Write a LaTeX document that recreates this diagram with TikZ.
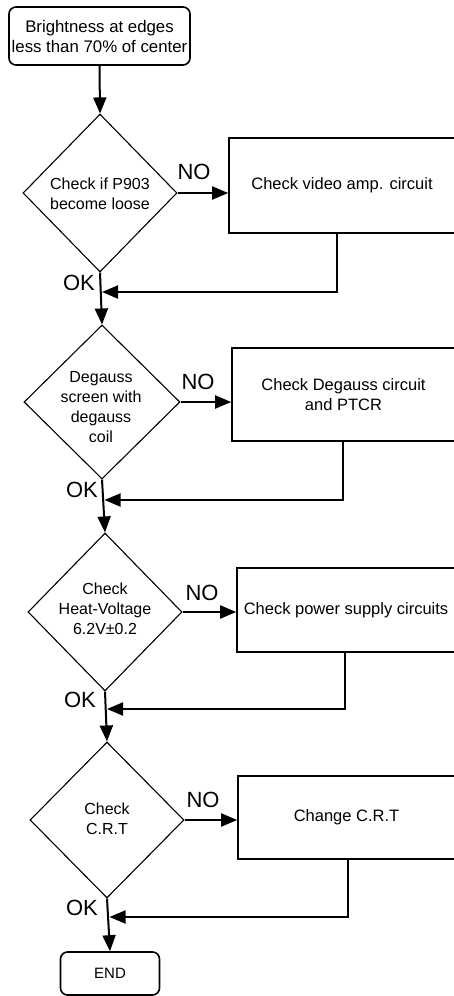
\documentclass[tikz,border=0pt]{standalone}
\usepackage{fontspec}
\setmainfont{Liberation Sans}
\usetikzlibrary{shapes.geometric,arrows.meta}
\begin{document}
\begin{tikzpicture}[x=1pt,y=-1pt,
  txt/.style={font=\fontsize{16}{20}\selectfont, align=center, inner sep=0pt},
  lbl/.style={font=\fontsize{22}{24}\selectfont, inner sep=0pt},
  term/.style={draw, line width=1.6pt, rounded corners=7pt, inner sep=0pt},
  dia/.style={draw, diamond, line width=1.1pt, inner sep=0pt},
  procbox/.style={draw, line width=1.6pt, rectangle, inner sep=0pt, align=center, font=\fontsize{16.5}{20}\selectfont},
  arr/.style={line width=2pt, -{Triangle[length=16pt,width=13pt]}},
  ln/.style={line width=2pt}
]
\useasboundingbox (0,0) rectangle (453,996);

% start
\node[term, minimum width=181pt, minimum height=58pt, txt, font=\fontsize{16.8}{20}\selectfont] (start) at (99.5,36) {Brightness at edges\\less than 70\% of center};

% decision 1
\node[dia, minimum width=154pt, minimum height=158pt] (d1) at (100,193) {};
\node[txt] (t1) at (100,194) {Check if P903\\become loose};
\node[procbox, minimum width=226pt, minimum height=95pt] (b1) at (342,185.5) {Check video amp. circuit};
\node[lbl] (no1) at (194,172) {NO};
\node[lbl] (ok1) at (79,283) {OK};
\coordinate (j1) at (101,292);

% decision 2
\node[dia, minimum width=156pt, minimum height=154pt] (d2) at (102,402) {};
\node[txt] (t2) at (101,407) {Degauss\\screen with\\degauss\\coil};
\node[procbox, minimum width=223pt, minimum height=93pt] (b2) at (343.5,394.5) {Check Degauss circuit\\and PTCR};
\node[lbl] (no2) at (198,382) {NO};
\node[lbl] (ok2) at (82,490) {OK};
\coordinate (j2) at (103.5,500);

% decision 3
\node[dia, minimum width=154pt, minimum height=158pt] (d3) at (105,612) {};
\node[txt] (t3) at (105,609) {Check\\Heat-Voltage\\6.2V±0.2};
\node[procbox, minimum width=218pt, minimum height=84pt] (b3) at (346,610) {Check power supply circuits};
\node[lbl] (no3) at (202,593) {NO};
\node[lbl] (ok3) at (80,700) {OK};
\coordinate (j3) at (106,709);

% decision 4
\node[dia, minimum width=154pt, minimum height=156pt] (d4) at (107,820) {};
\node[txt] (t4) at (107,819) {Check\\C.R.T};
\node[procbox, minimum width=217pt, minimum height=83pt] (b4) at (346.5,817.5) {Change C.R.T};
\node[lbl] (no4) at (203,800) {NO};
\node[lbl] (ok4) at (82,908) {OK};
\coordinate (j4) at (108.5,917);

% end
\node[term, minimum width=99pt, minimum height=43pt, font=\fontsize{15}{18}\selectfont] (end) at (110,973.5) {END};

% flow
\draw[arr] (start.south) -- (d1.north);
\draw[arr] (d1.south) -- (d2.north);
\draw[arr] (d2.south) -- (d3.north);
\draw[arr] (d3.south) -- (d4.north);
\draw[arr] (d4.south) -- (end.north);

% NO arrows
\draw[arr] (d1.east) -- (d1.east -| b1.west);
\draw[arr] (d2.east) -- (d2.east -| b2.west);
\draw[arr] (d3.east) -- (d3.east -| b3.west);
\draw[arr] (d4.east) -- (d4.east -| b4.west);

% returns
\draw[arr] ([xshift=-5pt]b1.south) |- ([xshift=1pt]j1);
\draw[arr] ([xshift=-0.5pt]b2.south) |- ([xshift=1pt]j2);
\draw[arr] ([xshift=-1pt]b3.south) |- ([xshift=1pt]j3);
\draw[arr] ([xshift=1.5pt]b4.south) |- ([xshift=1pt]j4);
\end{tikzpicture}
\end{document}
